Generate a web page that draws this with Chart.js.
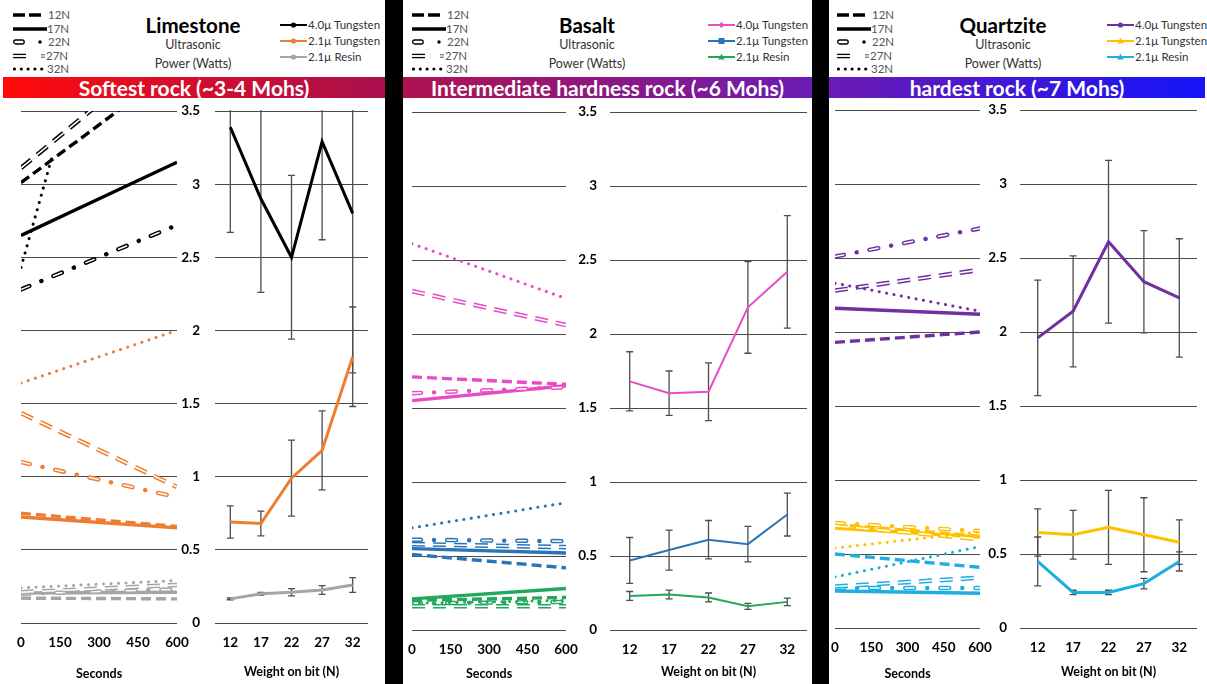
<!DOCTYPE html>
<html>
<head>
<meta charset="utf-8">
<script src="https://cdn.jsdelivr.net/npm/chart.js@4.4.1/dist/chart.umd.min.js"></script>
<style>
  html, body { margin: 0; padding: 0; background: #fff; }
  body { position: relative; width: 1207px; height: 684px; overflow: hidden; font-family: Lato, "Open Sans", sans-serif; }
  .box { position: absolute; }
  .txt { position: absolute; white-space: nowrap; line-height: 1; }
  .band { position: absolute; color: #fff; font-weight: 700; text-align: center; white-space: nowrap; }
</style>
</head>
<body>
<script>
// ---- axes ----
const secondsTicks = [0, 150, 300, 450, 600];
const powerTicks = [0, 0.5, 1, 1.5, 2, 2.5, 3, 3.5];
const weightLabels = ['12', '17', '22', '27', '32'];
const loadNames = ['12N', '17N', '22N', '27N', '32N'];
const toolNames = ['4.0µ Tungsten', '2.1µ Tungsten', '2.1µ Resin'];

// ---- Limestone: trend lines of power over time (W at 0 s and at the end), per load 12..32N ----
const limeT40Start = [3.01, 2.65, 2.28, 3.11, 2.43];
const limeT40End   = [3.80, 3.15, 2.72, 3.99, 3.19];
const limeT40EndSec = [600, 600, 600, 600, 120];
const limeT21Start = [0.75, 0.725, 1.10, 1.435, 1.64];
const limeT21End   = [0.66, 0.65, 0.86, 0.93, 2.00];
const limeR21Start = [0.17, 0.205, 0.20, 0.21, 0.24];
const limeR21End   = [0.165, 0.21, 0.23, 0.26, 0.29];
// mean power vs weight on bit, with error
const limeT40Mean = [3.39, 2.90, 2.50, 3.29, 2.80];
const limeT40Err  = [0.72, 0.64, 0.56, 0.67, 1.09];
const limeT21Mean = [0.69, 0.68, 0.99, 1.18, 1.82];
const limeT21Err  = [0.11, 0.085, 0.26, 0.27, 0.34];
const limeR21Mean = [0.165, 0.20, 0.21, 0.225, 0.26];
const limeR21Err  = [0.006, 0.01, 0.025, 0.03, 0.05];

// ---- Basalt ----
const basT40Start = [1.71, 1.55, 1.60, 2.29, 2.61];
const basT40End   = [1.66, 1.65, 1.64, 2.06, 2.24];
const basT21Start = [0.51, 0.55, 0.61, 0.58, 0.69];
const basT21End   = [0.42, 0.52, 0.60, 0.56, 0.86];
const basR21Start = [0.20, 0.21, 0.18, 0.16, 0.18];
const basR21End   = [0.22, 0.28, 0.19, 0.16, 0.20];
const basT40Mean = [1.68, 1.60, 1.61, 2.18, 2.42];
const basT40Err  = [0.20, 0.15, 0.195, 0.31, 0.38];
const basT21Mean = [0.47, 0.54, 0.61, 0.58, 0.78];
const basT21Err  = [0.155, 0.135, 0.13, 0.12, 0.145];
const basR21Mean = [0.23, 0.24, 0.22, 0.16, 0.19];
const basR21Err  = [0.03, 0.03, 0.03, 0.02, 0.025];

// ---- Quartzite ----
const quaT40Start = [1.93, 2.16, 2.51, 2.28, 2.33];
const quaT40End   = [2.00, 2.12, 2.70, 2.42, 2.14];
const quaT21Start = [0.70, 0.675, 0.71, 0.69, 0.54];
const quaT21End   = [0.62, 0.615, 0.655, 0.60, 0.65];
const quaR21Start = [0.50, 0.25, 0.27, 0.28, 0.345];
const quaR21End   = [0.41, 0.235, 0.27, 0.34, 0.55];
const quaT40Mean = [1.96, 2.14, 2.61, 2.34, 2.23];
const quaT40Err  = [0.39, 0.375, 0.55, 0.345, 0.40];
const quaT21Mean = [0.645, 0.63, 0.68, 0.63, 0.58];
const quaT21Err  = [0.16, 0.165, 0.25, 0.25, 0.15];
const quaR21Mean = [0.45, 0.24, 0.24, 0.30, 0.45];
const quaR21Err  = [0.165, 0.015, 0.015, 0.035, 0.065];

// ---- stroke recipes per load (compound strokes: colour first, then white core) ----
const loadStrokes = {
  '12N': [{ width: 3.4, dash: [10, 5] }],
  '17N': [{ width: 3.4 }],
  '22N': [{ width: 4.4, dash: [9, 13, 0.1, 13], cap: 'round' },
          { white: true, width: 1.5, dash: [10, 25.1], offset: 0.5 }],
  '27N': [{ width: 4.6, dash: [13, 8] }, { white: true, width: 1.6, dash: [13, 8] }],
  '32N': [{ width: 3, dash: [0.1, 7.4], cap: 'round' }]
};

const panels = [
  {
    title: 'Limestone', band: 'Softest rock (~3-4 Mohs)', bandX: [3, 385], bandFrom: '#ff0a0a', bandTo: '#a8104e',
    styleX: 13, titleX: 193, seriesX: 280,
    colors: ['#000000', '#ED7D31', '#A5A5A5'], markers: ['circle', 'circle', 'circle'],
    left: [21, 177], labelRight: 200, right: [215, 368], yTop: 111, yBottom: 623, meanWidth: 3,
    trends: [[limeT40Start, limeT40End, limeT40EndSec], [limeT21Start, limeT21End], [limeR21Start, limeR21End]],
    means: [[limeT40Mean, limeT40Err], [limeT21Mean, limeT21Err], [limeR21Mean, limeR21Err]]
  },
  {
    title: 'Basalt', band: 'Intermediate hardness rock (~6 Mohs)', bandX: [403, 812], bandFrom: '#b0124f', bandTo: '#6a1cb6',
    styleX: 412, titleX: 587, seriesX: 708,
    colors: ['#E84BC6', '#2C74B8', '#22A85C'], markers: ['diamond', 'square', 'triangle'],
    left: [412, 566], labelRight: 597, right: [610, 807], yTop: 112, yBottom: 630, meanWidth: 2,
    trends: [[basT40Start, basT40End], [basT21Start, basT21End], [basR21Start, basR21End]],
    means: [[basT40Mean, basT40Err], [basT21Mean, basT21Err], [basR21Mean, basR21Err]]
  },
  {
    title: 'Quartzite', band: 'hardest rock (~7 Mohs)', bandX: [829, 1205], bandFrom: '#6c1ab4', bandTo: '#1414fa',
    styleX: 837, titleX: 1003, seriesX: 1107,
    colors: ['#7030A0', '#FFC000', '#1FAEE0'], markers: ['circle', 'triangle', 'triangle'],
    left: [835, 980], labelRight: 1007, right: [1020, 1197], yTop: 110, yBottom: 628, meanWidth: 3,
    trends: [[quaT40Start, quaT40End], [quaT21Start, quaT21End], [quaR21Start, quaR21End]],
    means: [[quaT40Mean, quaT40Err], [quaT21Mean, quaT21Err], [quaR21Mean, quaR21Err]]
  }
];

const FONT = 'Lato, "Open Sans", sans-serif';
Chart.defaults.font.family = FONT;
Chart.defaults.color = '#000';
const GRID = '#4a4a4a';

function el(tag, css, parent) {
  const e = document.createElement(tag);
  if (css) e.style.cssText = css;
  (parent || document.body).appendChild(e);
  return e;
}
function text(str, x, y, font, color, align) {
  const d = el('div', `left:${x}px;top:${y}px;font:${font};color:${color};` +
    `transform:translate(${align === 'left' ? '0' : '-50%'},-50%);`);
  d.className = 'txt';
  d.textContent = str;
}
function canvasAt(l, t, w, h) {
  const wrap = el('div', `left:${l}px;top:${t}px;width:${w}px;height:${h}px;`);
  wrap.className = 'box';
  return el('canvas', '', wrap);
}

// dividers between the three panels
el('div', 'position:absolute;left:385px;top:0;width:18px;height:684px;background:#000;');
el('div', 'position:absolute;left:812px;top:0;width:17px;height:684px;background:#000;');

// error bars for the weight-on-bit charts
const errorBarPlugin = {
  id: 'errorBars',
  beforeDatasetsDraw(chart) {
    const { ctx, chartArea: a, scales: { x, y } } = chart;
    ctx.save();
    ctx.beginPath();
    ctx.rect(a.left, a.top - 1, a.right - a.left, a.bottom - a.top + 2);
    ctx.clip();
    ctx.strokeStyle = '#4d4d4d';
    ctx.lineWidth = 1.3;
    chart.data.datasets.forEach(ds => {
      (ds.errors || []).forEach((e, i) => {
        const px = x.getPixelForValue(i);
        const hi = y.getPixelForValue(ds.data[i] + e);
        const lo = y.getPixelForValue(ds.data[i] - e);
        ctx.beginPath();
        ctx.moveTo(px, hi); ctx.lineTo(px, lo);
        [hi, lo].forEach(py => {
          if (py >= a.top + 0.5 && py <= a.bottom - 0.5) { ctx.moveTo(px - 3.5, py); ctx.lineTo(px + 3.5, py); }
        });
        ctx.stroke();
      });
    });
    ctx.restore();
  }
};

function yScaleOpts(extra) {
  return Object.assign({
    min: 0, max: 3.5,
    afterBuildTicks: s => { s.ticks = powerTicks.map(v => ({ value: v })); },
    grid: { color: GRID, lineWidth: 1, drawTicks: false },
    border: { display: false }
  }, extra);
}

function legendSvgs(p) {
  const rows = [15, 29, 42, 56, 69];
  const lab = (i, x) => `<text x="${x}" y="${rows[i] + 4}" font-size="11.5" fill="#555">${loadNames[i]}</text>`;
  let s = `<svg width="70" height="80" style="position:absolute;left:${p.styleX}px;top:0" font-family='${FONT}'>`;
  s += `<line x1="0" x2="28" y1="${rows[0]}" y2="${rows[0]}" stroke="#000" stroke-width="3.5" stroke-dasharray="12 4"/>` + lab(0, 35);
  s += `<line x1="0" x2="34" y1="${rows[1]}" y2="${rows[1]}" stroke="#000" stroke-width="3.5"/>` + lab(1, 34);
  s += `<rect x="0.7" y="${rows[2] - 2}" width="10.5" height="4" rx="2" fill="none" stroke="#000" stroke-width="1.3"/>` +
       `<circle cx="27" cy="${rows[2]}" r="1.7" fill="#000"/>` + lab(2, 35);
  s += `<line x1="0" x2="13" y1="${rows[3] - 1.6}" y2="${rows[3] - 1.6}" stroke="#000" stroke-width="1.3"/>` +
       `<line x1="0" x2="13" y1="${rows[3] + 1.6}" y2="${rows[3] + 1.6}" stroke="#000" stroke-width="1.3"/>` +
       `<line x1="28" x2="32" y1="${rows[3] - 1.2}" y2="${rows[3] - 1.2}" stroke="#555" stroke-width="1"/>` +
       `<line x1="28" x2="32" y1="${rows[3] + 1.2}" y2="${rows[3] + 1.2}" stroke="#555" stroke-width="1"/>` + lab(3, 33);
  for (let k = 0; k < 5; k++) s += `<circle cx="${1.5 + k * 6.8}" cy="${rows[4]}" r="1.6" fill="#000"/>`;
  s += lab(4, 34) + '</svg>';

  const srows = [25, 41, 57];
  let t = `<svg width="110" height="70" style="position:absolute;left:${p.seriesX}px;top:0" font-family='${FONT}'>`;
  toolNames.forEach((n, i) => {
    const c = p.colors[i], y = srows[i];
    t += `<line x1="0" x2="27" y1="${y}" y2="${y}" stroke="${c}" stroke-width="2"/>`;
    const m = p.markers[i];
    if (m === 'circle') t += `<circle cx="13.5" cy="${y}" r="2.6" fill="${c}"/>`;
    if (m === 'square') t += `<rect x="10.5" y="${y - 3}" width="6" height="6" fill="${c}"/>`;
    if (m === 'diamond') t += `<path d="M13.5 ${y - 3}L16.5 ${y}L13.5 ${y + 3}L10.5 ${y}Z" fill="${c}"/>`;
    if (m === 'triangle') t += `<path d="M13.5 ${y - 3.2}L16.8 ${y + 2.4}L10.2 ${y + 2.4}Z" fill="${c}"/>`;
    t += `<text x="28" y="${y + 4}" font-size="11.5" fill="#333">${n}</text>`;
  });
  t += '</svg>';
  el('div', '').innerHTML = s + t;
}

panels.forEach(p => {
  // header
  legendSvgs(p);
  text(p.title, p.titleX, 25, `700 20.5px ${FONT}`, '#000');
  text('Ultrasonic', p.titleX, 44, `12.5px ${FONT}`, '#333');
  text('Power (Watts)', p.titleX, 63, `12.5px ${FONT}`, '#333');
  const b = el('div', `left:${p.bandX[0]}px;top:77px;width:${p.bandX[1] - p.bandX[0]}px;height:21px;` +
    `line-height:21px;font-size:21px;background:linear-gradient(90deg, ${p.bandFrom}, ${p.bandTo});`);
  b.className = 'band';
  b.textContent = p.band;

  const axisH = 684 - p.yBottom;
  const tickFont = { size: 13.5, weight: '700' };
  const titleFont = { size: 12.5, weight: '700' };
  const powerLabel = v => String(v);

  // ---- left: power over time, one trend per load ----
  const datasets = [];
  p.trends.forEach((tr, ti) => {
    const [starts, ends, endSec] = tr;
    loadNames.forEach((ld, li) => {
      const pts = [{ x: 0, y: starts[li] }, { x: endSec ? endSec[li] : 600, y: ends[li] }];
      loadStrokes[ld].forEach(st => {
        datasets.push({
          data: pts,
          borderColor: st.white ? '#ffffff' : p.colors[ti],
          borderWidth: st.width,
          borderDash: st.dash || [],
          borderDashOffset: st.offset || 0,
          borderCapStyle: st.cap || 'butt',
          pointRadius: 0, tension: 0
        });
      });
    });
  });
  datasets.reverse(); // first dataset is painted last

  const lc = canvasAt(p.left[0] - 15, p.yTop - 12, p.labelRight - (p.left[0] - 15), 684 - (p.yTop - 12));
  new Chart(lc, {
    type: 'line',
    data: { datasets },
    options: {
      responsive: true, maintainAspectRatio: false, animation: false, devicePixelRatio: 1,
      layout: { padding: { left: 15, top: 12, right: 0, bottom: 0 } },
      plugins: { legend: { display: false }, tooltip: { enabled: false } },
      scales: {
        x: {
          type: 'linear', min: 0, max: 600,
          afterBuildTicks: s => { s.ticks = secondsTicks.map(v => ({ value: v })); },
          afterFit: s => { s.height = axisH; },
          grid: { display: false }, border: { display: false },
          ticks: { font: tickFont, color: '#000', padding: 4, maxRotation: 0 },
          title: { display: true, text: 'Seconds', font: titleFont, color: '#000', padding: { top: 0, bottom: 3 } }
        },
        y: yScaleOpts({
          position: 'right',
          afterFit: s => { s.width = p.labelRight - p.left[1]; },
          ticks: { font: tickFont, color: '#000', crossAlign: 'far', padding: 0, callback: powerLabel }
        })
      }
    }
  });

  // ---- right: mean power vs weight on bit ----
  const rc = canvasAt(p.right[0] - 2, p.yTop - 12, p.right[1] - p.right[0] + 4, 684 - (p.yTop - 12));
  new Chart(rc, {
    type: 'line',
    data: {
      labels: weightLabels,
      datasets: p.means.map((m, i) => ({
        data: m[0], errors: m[1], borderColor: p.colors[i], borderWidth: p.meanWidth,
        pointRadius: 0, tension: 0
      }))
    },
    options: {
      responsive: true, maintainAspectRatio: false, animation: false, devicePixelRatio: 1,
      layout: { padding: { left: 2, top: 12, right: 2, bottom: 0 } },
      plugins: { legend: { display: false }, tooltip: { enabled: false } },
      scales: {
        x: {
          type: 'category', offset: true,
          afterFit: s => { s.height = axisH; },
          grid: { display: false }, border: { display: false },
          ticks: { font: tickFont, color: '#000', padding: 4, maxRotation: 0 },
          title: { display: true, text: 'Weight on bit (N)', font: titleFont, color: '#000', padding: { top: 0, bottom: 5 } }
        },
        y: yScaleOpts({
          position: 'left',
          afterFit: s => { s.width = 0; },
          ticks: { display: false }
        })
      }
    },
    plugins: [errorBarPlugin]
  });
});
</script>
</body>
</html>
